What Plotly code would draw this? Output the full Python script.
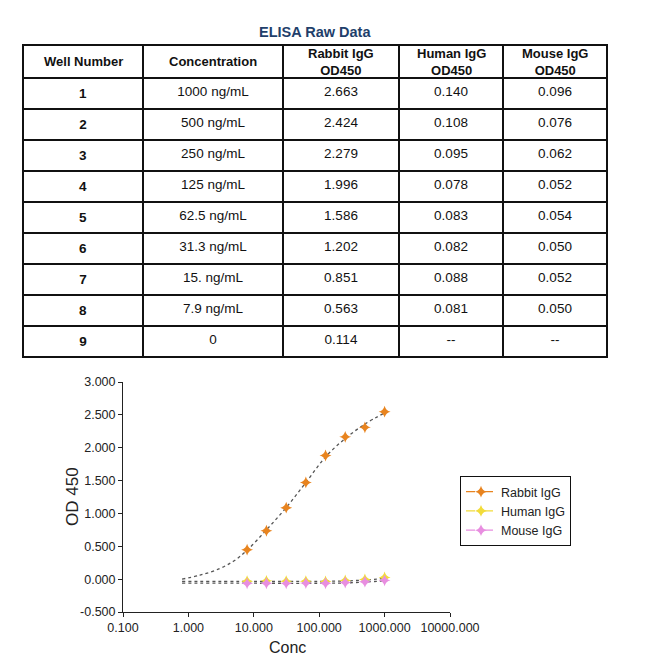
import plotly.graph_objects as go

# ---------------- data ----------------
wells = ["1", "2", "3", "4", "5", "6", "7", "8", "9"]
conc_labels = ["1000 ng/mL", "500 ng/mL", "250 ng/mL", "125 ng/mL", "62.5 ng/mL",
               "31.3 ng/mL", "15. ng/mL", "7.9 ng/mL", "0"]
rabbit_raw = ["2.663", "2.424", "2.279", "1.996", "1.586", "1.202", "0.851", "0.563", "0.114"]
human_raw = ["0.140", "0.108", "0.095", "0.078", "0.083", "0.082", "0.088", "0.081", "--"]
mouse_raw = ["0.096", "0.076", "0.062", "0.052", "0.054", "0.050", "0.052", "0.050", "--"]
headers = [["Well Number"], ["Concentration"], ["Rabbit IgG", "OD450"], ["Human IgG", "OD450"], ["Mouse IgG", "OD450"]]

conc = [1000, 500, 250, 125, 62.5, 31.3, 15.6, 7.9]
rabbit_od = [2.549, 2.310, 2.165, 1.882, 1.472, 1.088, 0.737, 0.449]
human_od = [0.026, -0.006, -0.019, -0.036, -0.031, -0.032, -0.026, -0.033]
mouse_od = [-0.018, -0.038, -0.052, -0.062, -0.060, -0.064, -0.062, -0.064]

fit_x = [0.8, 1.5, 3, 5, 7.9, 15.6, 31.3, 62.5, 125, 250, 500, 1000]
rabbit_fit = [0.0, 0.06, 0.16, 0.28, 0.44, 0.75, 1.09, 1.47, 1.86, 2.14, 2.36, 2.53]
human_fit_x = [0.8, 10, 100, 300, 1000]
human_fit = [-0.035, -0.035, -0.033, -0.025, 0.010]
mouse_fit = [-0.060, -0.062, -0.062, -0.055, -0.025]

x_tickvals = [0.1, 1, 10, 100, 1000, 10000]
x_ticktext = ["0.100", "1.000", "10.000", "100.000", "1000.000", "10000.000"]
y_tickvals = [-0.5, 0, 0.5, 1.0, 1.5, 2.0, 2.5, 3.0]
y_ticktext = ["-0.500", "0.000", "0.500", "1.000", "1.500", "2.000", "2.500", "3.000"]

series_names = ["Rabbit IgG", "Human IgG", "Mouse IgG"]
series_colors = ["#E8841F", "#F2DC3A", "#E88EE0"]

# ---------------- layout constants (pixels in the 650x660 picture) ----------------
FONT = "Liberation Sans, Arial, sans-serif"
W, H = 650, 660
OFF = 8  # page body margin
col_edges = [23, 143, 283, 399, 503, 607]
tbl_top, hdr_bottom = 45, 78


def px(x):
    return (x - OFF) / W


def py(y):
    return 1 - (y - OFF) / H


fig = go.Figure()

# ---------------- table ----------------
col_widths = [b - a for a, b in zip(col_edges[:-1], col_edges[1:])]
fig.add_trace(go.Table(
    domain=dict(x=[px(col_edges[0]), px(col_edges[-1])], y=[py(366), py(tbl_top)]),
    columnwidth=col_widths,
    header=dict(
        values=[""] * len(headers),
        line=dict(color="#111111", width=1.3),
        fill=dict(color="white"),
        height=hdr_bottom - tbl_top,
    ),
    cells=dict(
        values=[["<b>%s</b>" % w for w in wells], conc_labels, rabbit_raw, human_raw, mouse_raw],
        align="center",
        font=dict(family=FONT, size=13.5, color="#111111"),
        line=dict(color="#111111", width=1.3),
        fill=dict(color="white"),
        height=30,
    ),
))

annotations = [dict(text="<b>ELISA Raw Data</b>", x=px(315), y=py(32), xref="paper", yref="paper",
                    xanchor="center", yanchor="middle",
                    showarrow=False, font=dict(family=FONT, size=14.5, color="#1F3F6B")),
               dict(text="Conc", x=px(287), y=py(647), xref="paper", yref="paper",
                    xanchor="center", yanchor="middle", showarrow=False,
                    font=dict(family=FONT, size=16, color="#222222")),
               dict(text="OD 450", x=px(72), y=py(497), xref="paper", yref="paper",
                    xanchor="center", yanchor="middle", textangle=-90, showarrow=False,
                    font=dict(family=FONT, size=17, color="#222222"))]
for h, a, b in zip(headers, col_edges[:-1], col_edges[1:]):
    annotations.append(dict(text="<br>".join("<b>%s</b>" % p for p in h),
                            x=px((a + b) / 2), y=py((tbl_top + hdr_bottom) / 2),
                            xref="paper", yref="paper", xanchor="center", yanchor="middle",
                            align="center", showarrow=False,
                            font=dict(family=FONT, size=13, color="#111111")))

# ---------------- chart ----------------
line_style = dict(color="#555555", width=1.3, dash="dot")
fig.add_trace(go.Scatter(x=fit_x, y=rabbit_fit, mode="lines", line=dict(shape="spline", **line_style),
                         showlegend=False, hoverinfo="skip"))
fig.add_trace(go.Scatter(x=human_fit_x, y=human_fit, mode="lines", line=dict(shape="spline", **line_style),
                         showlegend=False, hoverinfo="skip"))
fig.add_trace(go.Scatter(x=human_fit_x, y=mouse_fit, mode="lines", line=dict(shape="spline", **line_style),
                         showlegend=False, hoverinfo="skip"))

for name, ys, col in zip(series_names, [rabbit_od, human_od, mouse_od], series_colors):
    fig.add_trace(go.Scatter(x=conc, y=ys, mode="markers", name=name,
                             marker=dict(symbol="star-diamond", size=8.5, color=col,
                                         line=dict(width=0)),
                             showlegend=False))
    fig.add_trace(go.Scatter(x=[None], y=[None], mode="lines+markers", name=name,
                             marker=dict(symbol="star-diamond", size=8.5, color=col, line=dict(width=0)),
                             line=dict(color=col, width=1.2, dash="dash")))

fig.update_layout(
    width=W, height=H,
    margin=dict(l=0, r=0, t=0, b=0, autoexpand=False),
    paper_bgcolor="white", plot_bgcolor="white",
    font=dict(family=FONT, size=12, color="#222222"),
    xaxis=dict(type="log", range=[-1, 4], domain=[px(123), px(450)], automargin=False,
               tickvals=x_tickvals, ticktext=x_ticktext,
               showgrid=False, zeroline=False, showline=True, linecolor="#222222", linewidth=1,
               ticks="outside", ticklen=4, tickcolor="#222222",
               tickfont=dict(size=12.5, color="#222222")),
    yaxis=dict(range=[-0.5, 3.0], domain=[py(612), py(382)], automargin=False,
               tickvals=y_tickvals, ticktext=y_ticktext,
               showgrid=False, zeroline=False, showline=True, linecolor="#222222", linewidth=1,
               ticks="outside", ticklen=4, tickcolor="#222222",
               tickfont=dict(size=12.5, color="#222222")),
    legend=dict(x=px(460), y=py(476), xanchor="left", yanchor="top",
                bordercolor="#111111", borderwidth=1, bgcolor="white",
                font=dict(size=12.5, color="#222222"), itemwidth=30, tracegroupgap=0),
    annotations=annotations,
)

fig.write_html("out.html")
